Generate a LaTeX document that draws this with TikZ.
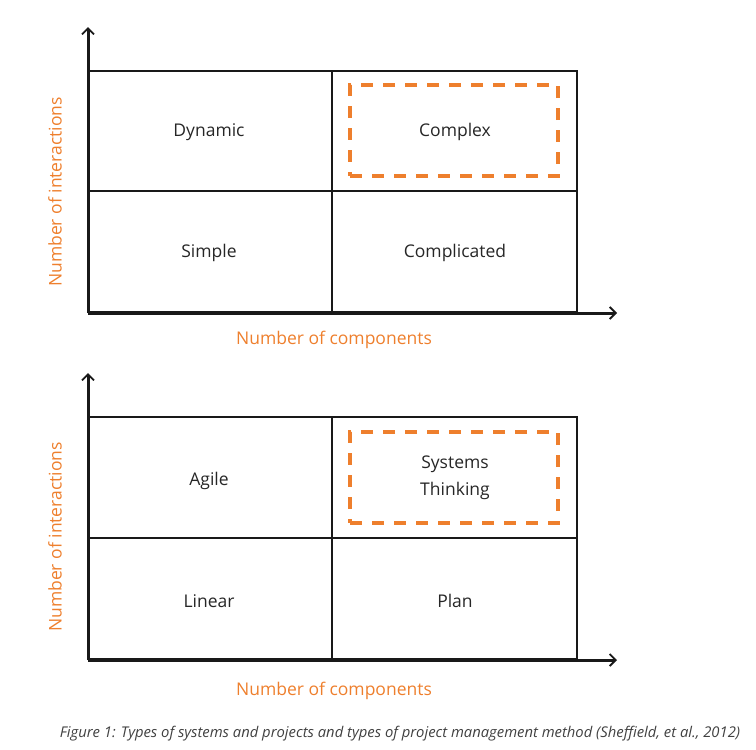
\documentclass[tikz,border=0pt]{standalone}
\usepackage{fontspec}
\setmainfont{Open Sans}
\definecolor{org}{HTML}{EE7F2D}
\usetikzlibrary{arrows.meta}
\tikzset{
  grid/.style={line width=2.5pt,black!90},
  axis/.style={line width=3pt,black!90,-{Straight Barb[length=6pt,width=12pt,line width=1.8pt]}},
  dbox/.style={draw=org,line width=3.5pt,dash pattern=on 12pt off 10pt},
  lbl/.style={font=\fontsize{17.5}{27}\selectfont,text=black!85,align=center},
  axl/.style={font=\fontsize{17.5}{21}\selectfont,text=org}
}
\begin{document}
\begin{tikzpicture}[x=1pt,y=-1pt]
\useasboundingbox (0,0) rectangle (756,750);
% top
\draw[grid] (88,71) rectangle (577,312);
\draw[grid] (88,191) -- (577,191);
\draw[grid] (332,71) -- (332,312);
\coordinate (o1) at (88,313);
\coordinate (y1) at (88,27);
\coordinate (x1) at (617,313);
\draw[axis] (o1) -- (y1);
\draw[axis] (o1) -- (x1);
\node[dbox,minimum width=208pt,minimum height=91pt] (d1) at (454,130.5) {};
\node[lbl] (n1) at (209,132) {Dynamic};
\node[lbl] (n2) at (455,132) {Complex};
\node[lbl] (n3) at (209,253) {Simple};
\node[lbl] (n4) at (455,253) {Complicated};
\node[axl] (c1) at (334,340) {Number of components};
\node[axl,rotate=90] (i1) at (55,192) {Number of interactions};
% bottom
\draw[grid] (88,417) rectangle (577,659);
\draw[grid] (88,538) -- (577,538);
\draw[grid] (332,417) -- (332,659);
\coordinate (o2) at (88,660);
\coordinate (y2) at (88,373);
\coordinate (x2) at (617,660);
\draw[axis] (o2) -- (y2);
\draw[axis] (o2) -- (x2);
\node[dbox,minimum width=208pt,minimum height=91pt] (d2) at (454,477.5) {};
\node[lbl] (m1) at (209,481) {Agile};
\node[lbl] (m2) at (455,478) {Systems\\Thinking};
\node[lbl] (m3) at (209,601) {Linear};
\node[lbl] (m4) at (455,601) {Plan};
\node[axl] (c2) at (334,691) {Number of components};
\node[axl,rotate=90] (i2) at (55,537) {Number of interactions};
\node[font=\itshape\fontsize{14.8}{17}\selectfont,text=black!75] (cap) at (400,734) {Figure 1: Types of systems and projects and types of project management method (Sheffield, et al., 2012)};
\end{tikzpicture}
\end{document}
